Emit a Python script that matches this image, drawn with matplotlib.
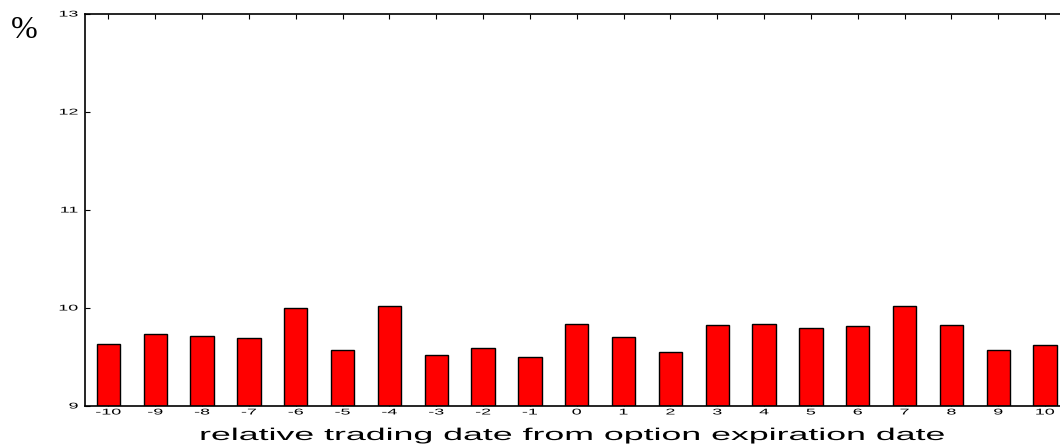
import matplotlib
matplotlib.use("Agg")
import matplotlib.pyplot as plt
from matplotlib.patheffects import AbstractPathEffect
from matplotlib.transforms import Affine2D

days = list(range(-10, 11))
values = [9.63, 9.73, 9.71, 9.69, 10.00, 9.57, 10.02, 9.52, 9.59, 9.50, 9.84,
          9.70, 9.55, 9.83, 9.84, 9.80, 9.82, 10.02, 9.83, 9.57, 9.62]
yticks = [9, 10, 11, 12, 13]


class HStretch(AbstractPathEffect):
    """Draw text stretched horizontally (the reference font is wide)."""
    def __init__(self, sx, anchor='center'):
        super().__init__()
        self.sx = sx
        self.anchor = anchor

    def draw_path(self, renderer, gc, tpath, affine, rgbFace=None):
        ext = tpath.get_extents(affine)
        if self.anchor == 'right':
            cx = ext.x1
        elif self.anchor == 'left':
            cx = ext.x0
        else:
            cx = 0.5 * (ext.x0 + ext.x1)
        new = affine + Affine2D().translate(-cx, 0).scale(self.sx, 1).translate(cx, 0)
        renderer.draw_path(gc, tpath, new, rgbFace)


fig = plt.figure(figsize=(10.6, 4.44), dpi=100)
ax = fig.add_axes([85/1060, 38/444, (1068.5-85)/1060, 392/444])
ax.bar(days, [v - 9 for v in values], bottom=9, width=0.5, color='#ff0000',
       edgecolor='black', linewidth=1.0, zorder=2)
ax.set_xlim(-10.5, 10.5)
ax.set_ylim(9, 13)
ax.set_xticks(days)
ax.set_xticklabels([str(d) for d in days])
ax.set_yticks(yticks)
ax.set_yticklabels([str(t) for t in yticks])
ax.tick_params(direction='in', top=True, right=False, length=3.6, width=0.8,
               labelsize=6, pad=2.5)
ax.tick_params(axis='y', pad=5)
for lab in ax.get_xticklabels():
    lab.set_family('Liberation Sans')
    lab.set_path_effects([HStretch(2.15, 'center')])
for lab in ax.get_yticklabels():
    lab.set_family('Liberation Sans')
    lab.set_path_effects([HStretch(2.15, 'right')])
ax.spines['right'].set_visible(False)
for s in ['left', 'top', 'bottom']:
    ax.spines[s].set_linewidth(1.2)

xl = fig.text(573.5/1060, 1 - 440/444,
              'relative trading date from option expiration date',
              fontsize=12.3, family='Liberation Sans', ha='center', va='baseline')
xl.set_path_effects([HStretch(2.09, 'center')])
fig.text(24/1060, 1 - 31/444, '%', fontsize=23, family='Liberation Serif',
         ha='center', va='center')
fig.savefig('out.png', dpi=100)
